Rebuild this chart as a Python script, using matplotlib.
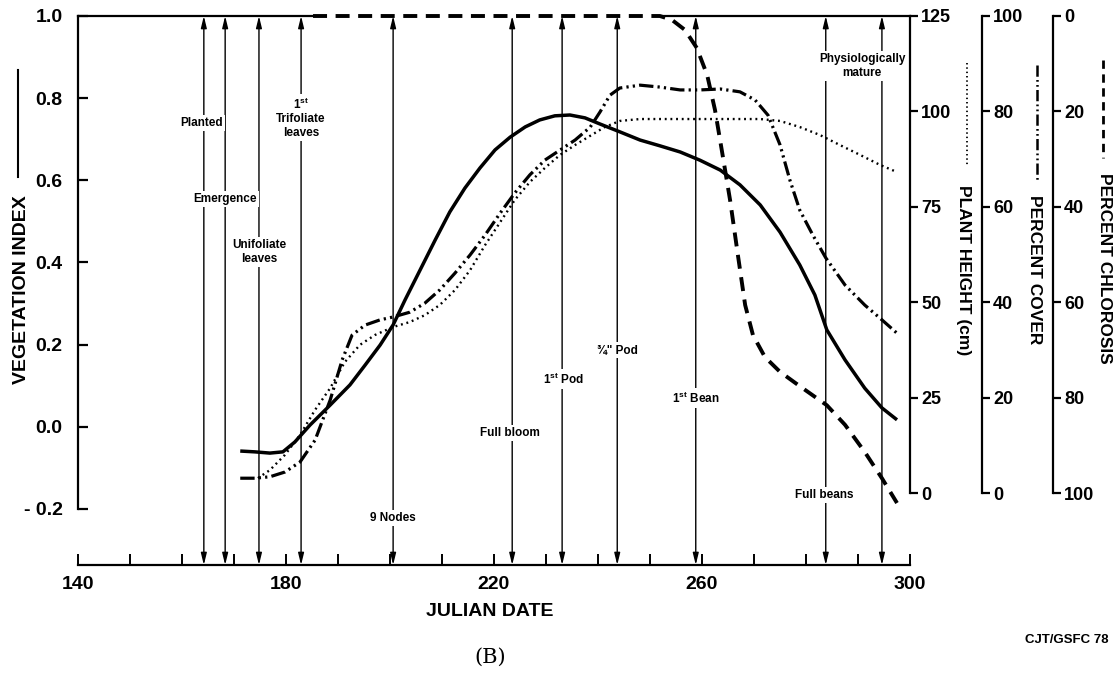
import matplotlib
matplotlib.use('Agg')
import matplotlib.pyplot as plt
from matplotlib.lines import Line2D

plt.rcParams['font.family'] = ['Liberation Sans', 'DejaVu Sans']
plt.rcParams['font.weight'] = 'bold'
plt.rcParams['mathtext.fontset'] = 'custom'
plt.rcParams['mathtext.rm'] = 'Liberation Sans:bold'
plt.rcParams['mathtext.bf'] = 'Liberation Sans:bold'

# Vegetation index (solid)
vi_day = [171.2, 174.0, 176.9, 179.4, 181.7, 184.6, 188.5, 192.3, 195.2, 198.1, 200.6,
          202.9, 205.8, 208.7, 211.5, 214.4, 217.3, 220.2, 223.1, 226.0, 228.8, 231.7,
          234.6, 237.5, 240.4, 244.2, 248.1, 251.9, 255.8, 259.6, 263.5, 267.3, 271.2,
          275.0, 278.8, 281.7, 284.0, 287.5, 291.3, 294.6, 297.5]
vi_val = [-0.059, -0.061, -0.064, -0.061, -0.037, 0.004, 0.053, 0.102, 0.150, 0.199, 0.248,
          0.309, 0.382, 0.455, 0.523, 0.581, 0.630, 0.674, 0.705, 0.730, 0.747, 0.757,
          0.759, 0.752, 0.737, 0.718, 0.698, 0.684, 0.669, 0.649, 0.625, 0.589, 0.540,
          0.474, 0.394, 0.321, 0.236, 0.163, 0.094, 0.046, 0.017]

# Plant height, cm (dotted)
ph_day = [174.6, 176.9, 179.8, 182.7, 185.6, 188.5, 191.3, 194.2, 197.1, 200.6, 203.8,
          206.7, 209.6, 212.5, 215.4, 218.3, 221.2, 224.0, 226.9, 229.8, 232.7, 235.6,
          238.5, 241.3, 244.2, 248.1, 255.8, 263.5, 271.2, 275.0, 278.8, 282.7, 286.5,
          290.4, 294.2, 297.5]
ph_val = [3.9, 6.0, 10.0, 15.2, 21.8, 27.5, 34.3, 38.8, 41.4, 43.5, 44.8,
          46.6, 49.3, 53.2, 58.4, 65.0, 71.0, 76.8, 81.5, 85.2, 88.6, 91.2,
          93.6, 95.9, 97.5, 98.0, 98.0, 98.0, 98.0, 97.5, 95.9, 93.8, 91.2,
          88.6, 86.0, 84.1]

# Percent cover (dash-dot-dot)
cov_day = [171.2, 174.0, 176.9, 179.8, 182.7, 185.6, 188.5, 190.8, 192.7, 195.2, 198.1,
           200.6, 203.8, 206.7, 209.6, 212.5, 215.4, 218.3, 221.2, 224.0, 226.9, 229.8,
           232.7, 235.6, 238.5, 240.4, 242.3, 244.2, 248.1, 251.9, 255.8, 259.6, 263.5,
           267.3, 270.2, 272.7, 275.0, 276.9, 278.8, 281.3, 283.8, 287.5, 291.3, 294.6,
           297.5]
cov_val = [3.1, 3.1, 3.4, 4.4, 6.5, 11.1, 19.5, 27.9, 33.1, 35.2, 36.3,
           36.9, 37.9, 39.8, 42.6, 46.1, 49.9, 54.1, 58.7, 62.9, 66.7, 69.8,
           71.9, 74.0, 76.7, 79.9, 83.4, 84.9, 85.5, 85.1, 84.5, 84.5, 84.7,
           84.1, 82.4, 79.2, 73.0, 65.6, 59.3, 54.1, 49.3, 43.6, 39.4, 36.3,
           33.5]

# Percent chlorosis (dashed)
chl_day = [185.2, 251.9, 254.2, 256.7, 259.0, 261.0, 262.5, 263.8, 265.4, 266.9, 268.3,
           269.8, 272.1, 275.0, 278.8, 284.0, 287.5, 291.3, 294.6, 297.5]
chl_val = [0, 0, 0.8, 2.9, 6.7, 12.4, 19.7, 28.1, 38.6, 50.1, 60.6,
           66.9, 71.5, 74.6, 77.6, 81.6, 85.7, 91.4, 96.9, 102.1]

# Growth stages
stage_day = [164.2, 168.3, 174.8, 182.9, 200.6, 223.5, 233.1, 243.7, 258.8, 283.8, 294.6]
stage_text = ['Planted', 'Emergence', 'Unifoliate\nleaves', '1$^{\\mathbf{st}}$\nTrifoliate\nleaves',
              '9 Nodes', 'Full bloom', '1$^{\\mathbf{st}}$ Pod', '\u00be" Pod',
              '1$^{\\mathbf{st}}$ Bean', 'Full beans', 'Physiologically\nmature']
# label placement (x in days, y in vegetation-index units)
label_x = [163.8, 168.3, 174.8, 182.9, 200.6, 223.1, 233.3, 243.8, 258.8, 283.6, 290.8]
label_y = [0.740, 0.555, 0.426, 0.752, -0.222, -0.015, 0.116, 0.187, 0.070, -0.166, 0.878]

W, H = 1119, 678
fig = plt.figure(figsize=(W / 100, H / 100), dpi=100)
ax = fig.add_axes([78 / W, 1 - 565 / H, 832 / W, 549 / H])

ax.set_xlim(140, 300)
ax.set_ylim(1.0 - 549 / 410.8, 1.0)
for s in ['top', 'right']:
    ax.spines[s].set_visible(False)
ax.spines['left'].set_bounds(-0.2, 1.0)
ax.spines['bottom'].set_bounds(140, 300)
for s in ['left', 'bottom']:
    ax.spines[s].set_linewidth(1.6)

yt = [-0.2, 0.0, 0.2, 0.4, 0.6, 0.8, 1.0]
ax.set_yticks(yt)
ax.set_yticklabels(['- 0.2'] + ['%.1f' % v for v in yt[1:]])
xt = list(range(140, 301, 10))
ax.set_xticks(xt)
ax.set_xticklabels([str(v) if v % 40 == 20 else '' for v in xt])
ax.tick_params(axis='y', direction='in', length=7, width=1.6, labelsize=14, pad=11)
ax.tick_params(axis='x', direction='in', length=8, width=1.4, labelsize=14, pad=8)

# top frame line, interrupted where the chlorosis curve lies along it
leave = max(d for d, c in zip(chl_day, chl_val) if c == 0)
ax.plot([140, chl_day[0]], [1, 1], color='k', lw=1.6, clip_on=False, zorder=2)
ax.plot([leave, 300], [1, 1], color='k', lw=1.6, clip_on=False, zorder=2)

# growth stage markers
for d in stage_day:
    ax.annotate('', xy=(d, 0), xycoords=('data', 'axes fraction'),
                xytext=(d, 1), textcoords=('data', 'axes fraction'),
                arrowprops=dict(arrowstyle='<|-|>,head_length=0.7,head_width=0.17',
                                color='k', lw=1.0, shrinkA=0, shrinkB=0,
                                mutation_scale=10), zorder=1)
for x, y, t in zip(label_x, label_y, stage_text):
    ax.text(x, y, t, ha='center', va='center', fontsize=8.5, linespacing=1.2,
            bbox=dict(facecolor='white', edgecolor='none', pad=1.5), zorder=2)

ax.plot(vi_day, vi_val, color='k', lw=2.5, solid_capstyle='butt', zorder=4)

# plant height axis
ax_ph = ax.twinx()
ax_ph.set_ylim(-72 / 3.816, 125)
ax_ph.plot(ph_day, ph_val, color='k', lw=1.7, dashes=(0.8, 1.6), zorder=4)

# percent cover axis
ax_cov = ax.twinx()
ax_cov.set_ylim(-72 / 4.77, 100)
ax_cov.plot(cov_day, cov_val, color='k', lw=2.3,
            dashes=(4.5, 1.3, 0.7, 1.3, 0.7, 1.3), zorder=4)

# percent chlorosis axis (inverted)
ax_chl = ax.twinx()
ax_chl.set_ylim(100 + 72 / 4.77, 0)
ax_chl.plot(chl_day, chl_val, color='k', lw=2.8, dashes=(3.6, 2.2),
            clip_on=False, zorder=4)

for a, pos, top, step in [(ax_ph, 1.0, 125, 25), (ax_cov, 1.0865, 100, 20),
                          (ax_chl, 1.1719, 100, 20)]:
    for s in ['left', 'top', 'bottom']:
        a.spines[s].set_visible(False)
    a.spines['right'].set_position(('axes', pos))
    a.spines['right'].set_bounds(0, top)
    a.spines['right'].set_linewidth(1.6)
    a.set_yticks(list(range(0, top + 1, step)))
    a.tick_params(axis='y', direction='out', length=6, width=1.6, labelsize=13, pad=2)

# axis titles with line-style keys
def px(x, y):
    return x / W, 1 - y / H

fig.text(*px(22, 290), 'VEGETATION INDEX', rotation=90, ha='center', va='center', fontsize=14)
fig.add_artist(Line2D([px(18, 0)[0]] * 2, [px(0, 70)[1], px(0, 177)[1]], color='k', lw=1.5))

fig.text(*px(963, 270), 'PLANT HEIGHT (cm)', rotation=-90, ha='center', va='center', fontsize=12.5)
fig.add_artist(Line2D([px(967, 0)[0]] * 2, [px(0, 63)[1], px(0, 165)[1]], color='k',
                      lw=1.3, dashes=(0.8, 1.6)))

fig.text(*px(1035, 270), 'PERCENT COVER', rotation=-90, ha='center', va='center', fontsize=12.5)
fig.add_artist(Line2D([px(1037, 0)[0]] * 2, [px(0, 65)[1], px(0, 180)[1]], color='k',
                      lw=1.8, dashes=(4.5, 1.3, 0.7, 1.3, 0.7, 1.3)))

fig.text(*px(1105, 268), 'PERCENT CHLOROSIS', rotation=-90, ha='center', va='center', fontsize=12.5)
fig.add_artist(Line2D([px(1103, 0)[0]] * 2, [px(0, 60)[1], px(0, 158)[1]], color='k',
                      lw=2.0, dashes=(3.0, 2.0)))

fig.text(*px(490, 612), 'JULIAN DATE', ha='center', va='center', fontsize=14)
fig.text(*px(490, 657), '(B)', ha='center', va='center', fontsize=15,
         family='DejaVu Serif', weight='normal')
fig.text(*px(1067, 640), 'CJT/GSFC 78', ha='center', va='center', fontsize=9.5)

fig.savefig('out.png', dpi=100)
